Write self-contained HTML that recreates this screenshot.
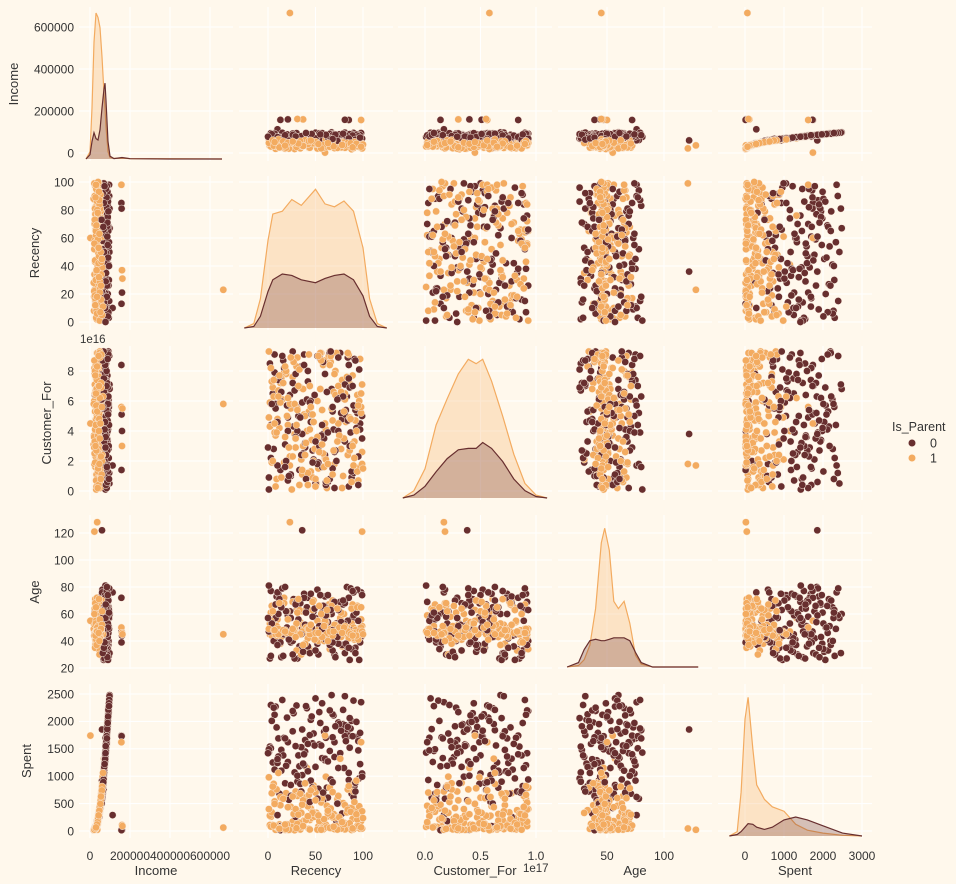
<!DOCTYPE html>
<html><head><meta charset="utf-8"><style>
html,body{margin:0;padding:0;background:#fff8ec;}
svg{display:block;font-family:"Liberation Sans","DejaVu Sans",sans-serif;}
</style></head><body>
<svg id="chart" width="956" height="884" viewBox="0 0 956 884">
<rect x="0" y="0" width="956" height="884" fill="#fff8ec"/>
<g>
<text x="892" y="431" font-size="12.5" fill="#333">Is_Parent</text>
<circle cx="912" cy="443" r="3.5" fill="#682F2F"/>
<text x="930" y="447.5" font-size="12.5" fill="#333">0</text>
<circle cx="912" cy="458" r="3.5" fill="#F3AB60"/>
<text x="930" y="462.5" font-size="12.5" fill="#333">1</text>
</g>
</svg>
<script>
// ---- data: Is_Parent = 1 (light) ----
const incomeP = [38200,24500,51300,44800,29100,61200,35600,47900,19800,55400,42100,33300,58700,27600,49200,36900,64300,22400,45600,31800,53900,40700,26300,68100,37400,50800,43500,18200,57200,34100,46300,29800,62700,39500,48100,25700,54600,41200,32600,70200,36300,44100,59800,23900,51700,38800,47100,30400,65500,42900,27100,56300,35200,49900,21600,45100,60900,33800,52400,40100,28700,63400,37900,46800,24800,54100,43300,31100,58300,39200,48700,26900,61800,35900,50200,41800,20700,55900,34600,47400,157000,160000,162000,36000,22000,666666,2000,
41500,29600,53100,36700,47300,22900,58900,44200,31200,62300,39100,50600,26100,45300,33700,56700,42400,19200,48600,37200,60100,28300,52100,40900,34400,63700,46100,25300,55100,38600,43800,30900,57800,35100,49600,21100,44900,59100,32300,51100,27900,46600,39800,54300,23400,61300,36100,48300,30700,56100,41100,25100,52700,45700,34900,58100,28900,47700,37600,64900,42300,31500,50100,24200,55600,39400,46400,33100,60300,29400,48900,36400,53600,26600,44400,57100,32100,49100,40600,22100,51900,38300,45200,27300,59600,35400,47200,30200,54800,43000];
const recencyP = [12,87,45,3,66,29,94,51,8,73,38,60,19,82,47,5,91,34,70,24,56,99,15,41,78,62,2,88,31,53,69,10,84,26,95,43,7,58,36,76,21,64,48,90,13,80,33,55,1,71,97,39,17,86,52,28,65,9,74,44,23,93,59,4,81,37,68,14,50,98,30,77,6,61,42,89,18,57,72,35,98,37,31,23,99,23,60,
46,11,79,33,92,58,4,67,25,85,40,96,17,63,2,74,49,28,88,55,9,71,36,97,20,61,83,44,14,77,52,3,90,31,66,22,99,48,8,81,57,27,94,13,70,39,86,1,62,34,75,19,91,47,6,68,30,84,54,11,42,95,24,73,16,59,87,37,5,65,29,80,50,12,93,43,69,21,100,56,7,78,32,89,45,18,63,98,26,53];
const custForP = [4.2,7.1,1.3,5.8,8.6,2.9,6.4,0.5,3.7,9.1,5.1,2.2,7.8,4.6,0.9,6.9,3.3,8.2,1.8,5.5,9.2,2.6,6.1,4.0,7.4,0.2,5.9,3.1,8.9,1.5,6.6,4.8,2.4,7.6,0.7,5.3,3.9,8.4,1.1,6.2,4.4,9.0,2.0,5.7,7.2,3.5,0.4,6.8,4.9,8.0,1.6,5.0,7.9,2.7,6.0,3.8,9.3,0.8,4.5,7.0,2.3,5.6,8.7,1.9,6.5,3.0,4.7,7.5,0.3,5.2,8.3,2.8,6.3,4.1,1.2,7.7,3.6,5.4,9.2,2.1,5.6,3.0,5.5,1.7,1.8,5.8,4.5,
3.4,6.7,1.0,8.1,4.7,2.5,7.3,5.5,0.1,9.1,3.2,6.0,1.9,8.5,4.3,7.0,2.8,5.8,0.6,9.2,3.9,6.4,1.4,8.8,5.0,2.1,7.6,4.1,0.9,6.6,3.6,8.2,1.7,5.4,9.0,2.9,7.1,4.6,0.3,6.1,3.1,8.6,1.3,5.9,7.8,2.4,4.9,9.3,0.7,6.9,3.7,8.0,2.2,5.1,7.4,1.1,4.4,9.2,2.6,6.3,0.4,5.7,8.9,3.3,7.2,1.6,4.8,6.8,2.0,8.4,3.5,5.3,0.8,7.7,4.0,9.1,2.7,6.2,1.5,8.7,4.5,0.2,7.0,3.0,5.6,8.3,1.8,6.5,2.3,9.0];
const ageP = [47,52,44,61,39,49,66,46,55,43,50,58,45,37,63,48,41,54,68,46,42,51,71,47,36,59,45,53,64,40,48,56,44,69,49,35,52,46,62,57,43,67,48,50,38,60,45,53,47,65,41,49,72,46,55,44,34,51,63,48,58,45,40,66,47,52,70,43,49,56,33,61,46,54,42,67,48,59,45,30,50,46,45,128,121,45,55,
46,49,45,63,48,51,44,66,47,42,50,47,68,45,53,46,41,49,64,48,44,52,47,39,62,46,50,45,67,43,48,55,46,61,49,44,47,70,45,51,43,48,65,46,52,38,47,49,63,45,50,46,42,69,48,44,53,47,66,45,49,41,46,64,48,51,45,37,62,47,43,50,46,68,44,49,47,56,45,60,48,46,71,44,52,47,40,65,49,46];
const spentP = [120,35,410,260,48,720,95,330,22,580,190,70,690,40,350,110,880,28,300,62,520,230,45,1150,130,460,280,18,640,85,310,55,760,170,390,38,540,210,75,1320,105,270,830,33,470,150,360,58,980,240,42,610,100,420,25,290,790,80,500,200,50,920,140,340,30,560,250,68,700,180,380,44,860,115,450,220,20,600,90,330,1620,110,90,22,45,62,1740,
240,60,510,150,380,30,690,280,75,820,200,450,40,320,110,640,260,15,420,170,760,55,480,230,120,990,340,28,600,190,290,80,720,130,410,20,360,780,95,470,45,310,210,620,35,870,140,400,65,680,250,38,530,330,100,710,52,390,180,1060,270,88,440,26,590,215,350,92,810,58,400,125,560,42,305,660,78,435,235,24,495,160,300,48,740,118,370,66,630,285];
// ---- data: Is_Parent = 0 (dark) ----
const incomeN = [72100,84300,65800,91200,58700,77900,88600,69300,95400,62100,80700,74500,86900,67200,93100,55900,79800,83400,71300,98200,64600,76200,89700,60800,82100,73700,94700,68400,78800,85800,57300,90400,70900,81600,66300,96800,75400,87200,63500,79100,35200,83900,68900,92300,74100,28400,86400,61700,77300,89100,42600,80200,72800,95900,66800,84800,52300,76800,90900,69800,81100,24700,87800,73200,63100,93800,78300,46800,85300,71800,157000,158000,160000,157500,60000,113000,
76500,89300,63900,82700,70400,94100,59800,85100,73400,91600,67700,80100,97300,61900,78100,87500,71900,83700,56400,92700,75100,88100,65300,81300,69100,96100,73900,86100,62500,79600,90100,68100,84100,77100,93400,60300,82900,72400,88900,66100,79300,85600,74800,91900,64100,81900,70100,87100,76100,94900,58900,83100,71100,89600,67900,80600,92100,75700,86600,63700,78600,90600,69600,84600,57800,77600,88400,73100,95100,66600];
const recencyN = [5,48,91,27,63,14,79,36,98,52,21,70,9,85,41,58,2,94,33,67,18,76,45,88,11,60,30,96,54,83,24,69,7,39,92,50,16,81,62,3,72,44,99,26,57,13,87,35,65,20,78,47,10,90,31,59,84,1,68,42,95,23,74,38,53,8,86,29,61,80,85,81,21,13,36,10,
32,88,12,56,74,3,45,97,21,65,8,39,81,52,17,93,28,70,44,6,60,84,24,49,99,15,37,77,58,1,86,31,68,11,54,90,42,19,75,34,95,26,63,7,47,82,14,71,38,57,22,89,50,4,66,35,79,10,61,92,29,46,85,18,73,0,55,97,40,68];
const custForN = [6.5,2.1,8.8,4.3,0.6,7.2,3.4,5.9,1.7,9.0,4.9,2.6,7.7,0.3,6.1,3.8,8.5,5.2,1.4,6.8,3.1,9.2,4.6,0.9,7.4,2.4,5.6,8.1,3.6,6.3,1.0,4.1,7.9,2.9,5.4,0.5,8.7,3.3,6.6,4.4,2.0,7.0,5.0,9.3,1.6,6.0,3.9,8.3,0.8,5.7,4.8,2.7,7.5,1.2,6.9,3.5,8.9,0.1,5.3,7.3,2.3,6.4,4.0,9.1,1.9,5.8,3.0,7.8,0.4,6.2,8.4,5.1,4.0,1.4,3.8,1.7,
5.0,1.3,7.6,3.7,8.9,2.2,6.0,4.5,0.7,9.2,5.5,3.2,7.1,1.8,8.2,4.2,6.7,0.2,5.9,2.8,7.8,4.7,1.1,6.4,3.5,9.0,2.5,5.2,8.6,0.9,6.9,4.0,1.5,7.4,3.0,5.7,8.0,2.0,6.2,4.9,0.4,7.2,3.9,9.1,1.9,5.4,6.6,2.7,8.4,4.4,1.0,7.0,3.3,5.8,9.3,2.4,6.3,4.6,0.6,8.7,3.6,5.1,7.5,1.6,6.1,2.9,8.8,4.1,0.8,5.6];
const ageN = [45,62,33,71,54,28,67,49,76,38,58,30,73,43,65,52,27,78,36,60,47,69,32,56,75,41,63,26,51,80,39,66,44,72,35,57,29,68,48,77,53,31,74,40,61,46,79,34,64,50,37,70,42,59,27,66,55,81,33,72,44,62,38,75,30,57,48,68,41,53,72,47,44,39,122,76,
56,34,71,48,63,29,75,42,59,37,67,52,31,78,45,61,27,69,50,40,73,35,57,64,44,79,32,54,66,47,26,70,39,60,51,76,36,62,43,68,55,30,74,46,58,38,65,28,72,49,41,77,33,53,63,45,70,37,59,31,67,50,35,80,43,57,74,39,61,48];
const spentN = [1250,1780,820,2150,610,1480,1950,1020,2350,740,1620,1350,1890,930,2240,560,1540,1720,1180,2480,870,1420,2030,680,1690,1290,2290,960,1580,1840,640,2110,1120,1660,880,2420,1380,1930,790,1510,180,1750,1050,2190,1330,90,1870,720,1460,2070,320,1600,1240,2380,900,1810,420,1430,2130,1090,1640,60,1980,1200,770,2270,1520,260,1700,1150,1740,1730,20,15,1853,290,
1380,2010,680,1560,1150,2300,920,1790,1260,2200,750,1450,2460,590,1700,1990,1070,1620,530,2250,1320,1900,840,1560,990,2390,1230,1830,700,1490,2060,1010,1710,1360,2170,620,1590,1190,1950,860,1470,1820,1270,2120,800,1640,1100,1910,1400,2330,570,1730,1170,2010,940,1530,2210,1310,1860,720,1550,2090,1060,1690,500,1420,1970,1220,2280,890];
// ---- KDE curves (diagonal), densities relative ----
const kdeIncomeGrid = [-20000,0,10000,20000,30000,40000,50000,60000,70000,75000,80000,90000,100000,120000,160000,200000,400000,660000];
const kdeIncomeP = [0,0.05,0.35,0.8,1.0,0.97,0.9,0.7,0.45,0.35,0.22,0.05,0.01,0.005,0.006,0.003,0.002,0];
const kdeIncomeN = [0,0.03,0.12,0.18,0.14,0.13,0.2,0.35,0.48,0.52,0.4,0.12,0.02,0.003,0.01,0.002,0,0];
const kdeRecencyGrid = [-25,-15,-8,0,5,15,25,35,50,60,70,80,90,100,107,115,125];
const kdeRecencyP = [0,0.03,0.2,0.6,0.78,0.8,0.88,0.84,0.95,0.85,0.83,0.87,0.8,0.55,0.2,0.03,0];
const kdeRecencyN = [0,0.01,0.08,0.25,0.33,0.37,0.36,0.33,0.31,0.34,0.36,0.37,0.33,0.22,0.08,0.01,0];
const kdeCustForGrid = [-2,-1,0,1,2,3,3.9,4.6,5.2,6,7,8,9,10,11];
const kdeCustForP = [0,0.05,0.2,0.5,0.68,0.85,0.95,0.92,0.95,0.8,0.56,0.3,0.1,0.02,0];
const kdeCustForN = [0,0.02,0.08,0.18,0.27,0.33,0.34,0.34,0.38,0.34,0.25,0.13,0.05,0.01,0];
const kdeAgeGrid = [15,25,30,35,40,45,48,52,56,60,65,70,75,80,90,130];
const kdeAgeP = [0,0.01,0.05,0.15,0.4,0.85,0.95,0.8,0.45,0.4,0.45,0.3,0.08,0.02,0,0];
const kdeAgeN = [0,0.03,0.12,0.18,0.19,0.18,0.18,0.19,0.2,0.2,0.2,0.18,0.1,0.03,0,0];
const kdeSpentGrid = [-400,-200,-100,0,80,200,300,500,700,1000,1300,1600,2000,2500,3000];
const kdeSpentP = [0,0.03,0.3,0.8,0.95,0.6,0.35,0.25,0.2,0.17,0.08,0.04,0.02,0.005,0];
const kdeSpentN = [0,0.01,0.03,0.06,0.085,0.08,0.06,0.045,0.06,0.11,0.13,0.11,0.07,0.02,0];
// ---- ticks ----
const incomeTicks = [0,200000,400000,600000];
const incomeTickLabels = ["0","200000","400000","600000"];
const recencyXTicks = [0,50,100];
const recencyYTicks = [0,20,40,60,80,100];
const custForXTicks = [0,5,10];
const custForXTickLabels = ["0.0","0.5","1.0"];
const custForYTicks = [0,2,4,6,8];
const ageXTicks = [50,100];
const ageYTicks = [20,40,60,80,100,120];
const spentXTicks = [0,1000,2000,3000];
const spentYTicks = [0,500,1000,1500,2000,2500];

const NS = "http://www.w3.org/2000/svg";
const svg = document.getElementById('chart');
const colX = [79,239,398,558,718], rowY = [7,176,346,515,684], PW = 154, PH = 154;
const vars = ['Income','Recency','Customer_For','Age','Spent'];
const X = [v=>90+v*0.0002, v=>268+v*0.95, v=>425+v*11.1, v=>607+(v-50)*1.14, v=>745+v*0.039];
const Y = [v=>153-v*0.00021, v=>322-v*1.4, v=>491-v*15, v=>668-(v-20)*1.35, v=>831-v*0.0548];
const xt = [[incomeTicks,incomeTickLabels],[recencyXTicks,recencyXTicks.map(String)],[custForXTicks,custForXTickLabels],[ageXTicks,ageXTicks.map(String)],[spentXTicks,spentXTicks.map(String)]];
const yt = [[incomeTicks,incomeTickLabels],[recencyYTicks,recencyYTicks.map(String)],[custForYTicks,custForYTicks.map(String)],[ageYTicks,ageYTicks.map(String)],[spentYTicks,spentYTicks.map(String)]];
const dataP = [incomeP,recencyP,custForP,ageP,spentP];
const dataN = [incomeN,recencyN,custForN,ageN,spentN];
const kdes = [[kdeIncomeGrid,kdeIncomeP,kdeIncomeN],[kdeRecencyGrid,kdeRecencyP,kdeRecencyN],[kdeCustForGrid,kdeCustForP,kdeCustForN],[kdeAgeGrid,kdeAgeP,kdeAgeN],[kdeSpentGrid,kdeSpentP,kdeSpentN]];
const DARK = '#682F2F', LIGHT = '#F3AB60';
function mk(tag, attrs, parent){const e=document.createElementNS(NS,tag);for(const k in attrs)e.setAttribute(k,attrs[k]);(parent||svg).appendChild(e);return e;}
const defs = mk('defs',{});
for(let r=0;r<5;r++){
  for(let c=0;c<5;c++){
    const px=colX[c], py=rowY[r];
    const g = mk('g',{});
    
    
    const cp = mk('clipPath',{id:'cp'+r+'_'+c},defs);
    mk('rect',{x:px,y:py,width:PW,height:PH},cp);
    xt[c][0].forEach(t=>{const x=X[c](t); if(x>=px&&x<=px+PW){const l=mk('line',{x1:x,x2:x,y1:py,y2:py+PH,stroke:'#fff',"stroke-width":1.1},g);
      
      }});
    yt[r][0].forEach(t=>{const y=Y[r](t); if(y>=py&&y<=py+PH){const l=mk('line',{x1:px,x2:px+PW,y1:y,y2:y,stroke:'#fff',"stroke-width":1.1},g);
      
      }});
    const inner = mk('g',{'clip-path':'url(#cp'+r+'_'+c+')'},g);
    if(r===c){
      const [grid,dp,dn]=kdes[c]; const base=py+PH-2, sc=146;
      [[dp,LIGHT,'kde-is-parent-1'],[dn,DARK,'kde-is-parent-0']].forEach(([d,col,nm])=>{
        let pts=grid.map((v,i)=>X[c](v).toFixed(1)+','+(base-d[i]*sc).toFixed(1));
        const area=mk('path',{d:'M'+X[c](grid[0]).toFixed(1)+','+base+' L'+pts.join(' L')+' L'+X[c](grid[grid.length-1]).toFixed(1)+','+base+' Z',fill:col,"fill-opacity":0.28,stroke:'none'},inner);
        
        
        const ln=mk('polyline',{points:pts.join(' '),fill:'none',stroke:col,"stroke-width":1.2},inner);
        
        
      });
    } else {
      const n=Math.max(dataP[0].length,dataN[0].length);
      for(let i=0;i<n;i++){
        [[dataN,DARK,'point-is-parent-0'],[dataP,LIGHT,'point-is-parent-1']].forEach(([D,col,nm])=>{
          if(i>=D[0].length) return;
          const ci=mk('circle',{cx:X[c](D[c][i]).toFixed(1),cy:Y[r](D[r][i]).toFixed(1),r:3.6,fill:col,stroke:'#fbeee0',"stroke-width":0.5},inner);
          
          
        });
      }
    }
  }
}
for(let r=0;r<5;r++){
  yt[r][0].forEach((t,i)=>{const y=Y[r](t); if(y>=rowY[r]-2&&y<=rowY[r]+PH+2){const tx=mk('text',{x:74,y:y+4.3,"font-size":12,fill:'#333',"text-anchor":'end'});tx.textContent=yt[r][1][i];
    
    }});
  const cy=rowY[r]+PH/2;
  const lx = r===0?18:(r===1?39:(r===2?51:(r===3?39:31)));
  const tt=mk('text',{x:lx,y:cy,"font-size":13,fill:'#333',"text-anchor":'middle',transform:'rotate(-90 '+lx+' '+cy+')'});
  tt.textContent=vars[r];
  
  
}
for(let c=0;c<5;c++){
  xt[c][0].forEach((t,i)=>{const x=X[c](t);const tx=mk('text',{x:x,y:860,"font-size":12,fill:'#333',"text-anchor":'middle'});tx.textContent=xt[c][1][i];
    
    });
  const tt=mk('text',{x:colX[c]+PW/2,y:875,"font-size":13,fill:'#333',"text-anchor":'middle'});
  tt.textContent=vars[c];
  
  
}
const o1=mk('text',{x:80,y:343,"font-size":11.5,fill:'#333'});o1.textContent='1e16';


const o2=mk('text',{x:523,y:872,"font-size":11.5,fill:'#333'});o2.textContent='1e17';


</script>
</body></html>
